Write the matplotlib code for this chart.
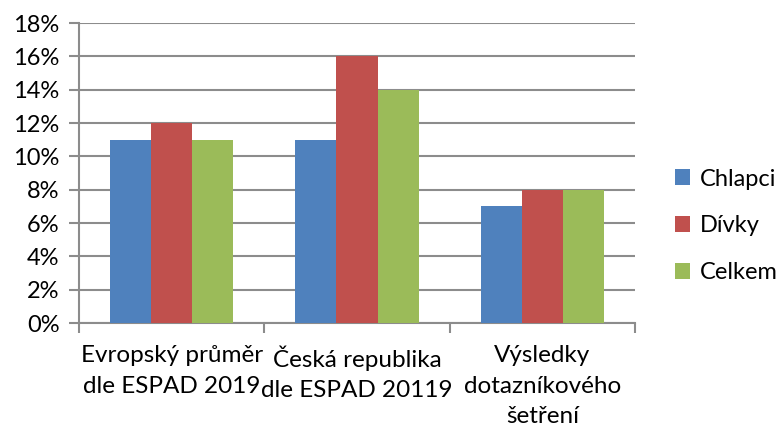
import matplotlib
matplotlib.use('Agg')
import matplotlib.pyplot as plt
import numpy as np
from matplotlib.ticker import FuncFormatter

categories = ['Evropský průměr\ndle ESPAD 2019', 'Česká republika\ndle ESPAD 20119', 'Výsledky\ndotazníkového\nšetření']
series_names = ['Chlapci', 'Dívky', 'Celkem']
chlapci = [11, 11, 7]
divky = [12, 16, 8]
celkem = [11, 14, 8]
colors = ['#4F81BD', '#C0504D', '#9BBB59']

plt.rcParams['font.family'] = ['Lato', 'DejaVu Sans']

fig = plt.figure(figsize=(7.8, 4.32), dpi=100)
ax = fig.add_axes([79 / 780, 1 - 323 / 432, 556 / 780, 300 / 432])

x = np.arange(len(categories))
w = 0.222
for i, (vals, name) in enumerate(zip([chlapci, divky, celkem], series_names)):
    ax.bar(x + (i - 1) * w, vals, w, color=colors[i], label=name, zorder=3)

ax.set_xlim(-0.5, 2.5)
ax.set_ylim(0, 18)
ax.set_yticks(range(0, 19, 2))
ax.yaxis.set_major_formatter(FuncFormatter(lambda v, p: '%d%%' % v))
ax.grid(axis='y', color='#8c8c8c', linewidth=1.5, zorder=0)

for s in ['top', 'right']:
    ax.spines[s].set_visible(False)
for s in ['left', 'bottom']:
    ax.spines[s].set_color('#8c8c8c')
    ax.spines[s].set_linewidth(1.5)

ax.set_xticks([-0.5, 0.5, 1.5, 2.5])
ax.set_xticklabels([])
ax.tick_params(axis='x', length=7, width=1.5, color='#8c8c8c')
ax.tick_params(axis='y', length=7, width=1.5, color='#8c8c8c', labelsize=17, pad=7)

for xi, lab in zip(x, categories):
    ax.text(xi, -0.075, lab, transform=ax.get_xaxis_transform(), ha='center', va='top',
            fontsize=17.5, linespacing=1.55)

ax.legend(loc='center left', bbox_to_anchor=(675 / 780, 1 - 226 / 432),
          bbox_transform=fig.transFigure, frameon=False, fontsize=17,
          handlelength=0.65, handleheight=0.65, labelspacing=1.1, handletextpad=0.4,
          borderpad=0, borderaxespad=0)

fig.savefig('out.png', dpi=100)
